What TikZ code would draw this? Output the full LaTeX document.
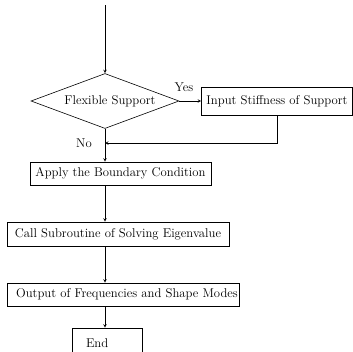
\documentclass[tikz,border=0pt]{standalone}
\usepackage{tikz}
\usetikzlibrary{shapes.geometric}

\tikzset{
    box/.style={draw, rectangle, inner sep=0pt},
    decision/.style={draw, diamond, aspect=2.7, inner sep=0pt},
    flow/.style={->, >=stealth}
}

\begin{document}
\begin{tikzpicture}[x=1pt, y=-1pt, line width=0.6pt, font=\fontsize{12.7}{14}\selectfont]
        \useasboundingbox (0,0) rectangle (353,351);
        \clip (0,0) rectangle (353,351);

        \coordinate (start) at (105,5);
        \node[decision, minimum width=148pt, minimum height=55pt] (flex) at (105,101) {\hspace{10pt}Flexible Support};
        \node[box, minimum width=151pt, minimum height=28pt] (stiff) at (277,101) {Input Stiffness of Support};
        \coordinate (back) at (105,143);
        \node[box, minimum width=181pt, minimum height=23pt] (apply) at (120.5,173.5) {Apply the Boundary Condition};
        \node[box, minimum width=222pt, minimum height=24pt] (call) at (118,234) {Call Subroutine of Solving Eigenvalue};
        \node[box, minimum width=232pt, minimum height=23pt] (output) at (123,294.5) {\hspace{8pt}Output of Frequencies and Shape Modes};
        \node[box, minimum width=70pt, minimum height=30pt, text width=42pt, align=left] (end) at (107,343) {End};

        \draw[flow] (start) -- (flex.north);
        \draw[flow] (flex.east) -- (stiff.west);
        \draw[flow] (stiff.south) |- (back);
        \draw[flow] (flex.south) -- (flex.south |- apply.north);
        \draw[flow] (flex.south |- apply.south) -- (flex.south |- call.north);
        \draw[flow] (flex.south |- call.south) -- (flex.south |- output.north);
        \draw[flow] (flex.south |- output.south) -- (flex.south |- end.north);

        \node at (184,87) {Yes};
        \node at (84,143) {No};
    \end{tikzpicture}
\end{document}
